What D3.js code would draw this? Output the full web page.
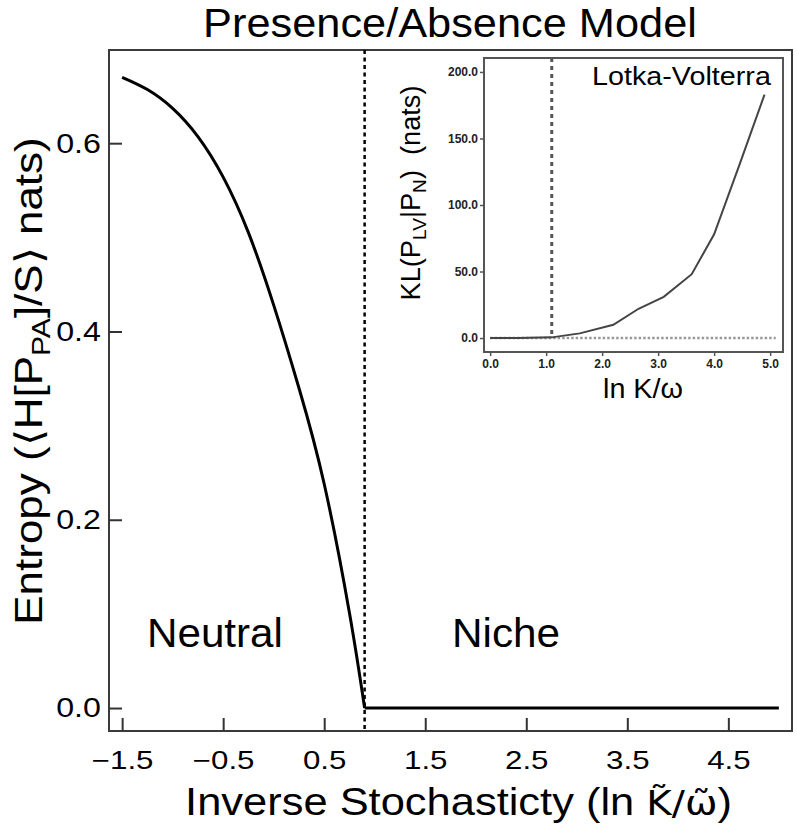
<!DOCTYPE html>
<html>
<head>
<meta charset="utf-8">
<script src="https://cdn.jsdelivr.net/npm/d3@7"></script>
<style>
  body { margin: 0; background: #fff; }
  svg { display: block; font-family: "Liberation Sans", Arial, sans-serif; }
</style>
</head>
<body>
<svg id="chart" width="797" height="832"></svg>
<script>
// main curve (neutral regime)
const neutralX = [-1.5, -1.25, -1.0, -0.75, -0.5, -0.25, 0.0, 0.25, 0.5, 0.75, 0.9];
const neutralY = [0.670, 0.657, 0.637, 0.607, 0.564, 0.505, 0.428, 0.340, 0.238, 0.101, 0.0];
// niche regime: flat at zero
const nicheX = [0.9, 5.0];
const nicheY = [0.0, 0.0];
const transitionX = 0.9;

const mainXTicks = [-1.5, -0.5, 0.5, 1.5, 2.5, 3.5, 4.5];
const mainYTicks = [0.0, 0.2, 0.4, 0.6];

// inset: Lotka-Volterra KL divergence
const lvX = [0.0, 0.5, 1.1, 1.6, 2.2, 2.65, 3.1, 3.6, 4.0, 4.45, 4.9];
const lvY = [0, 0, 0.5, 3.5, 10, 22, 31, 48, 78, 130, 183];
const insetTransitionX = 1.1;
const insetXTicks = [0, 1, 2, 3, 4, 5];
const insetYTicks = [0, 50, 100, 150, 200];

const svg = d3.select('#chart');

// stretch a text horizontally so it takes the given width
const fitWidth = (sel, w) => w / sel.node().getComputedTextLength();

// ---------- main plot ----------
const x = d3.scaleLinear().domain([-1.63, 5.13]).range([109, 792]);
const y = d3.scaleLinear().domain([-0.0244, 0.699]).range([731, 50]);

svg.append('rect')
  .attr('x', 109).attr('y', 50)
  .attr('width', 792 - 109).attr('height', 731 - 50)
  .attr('fill', 'none')
  .attr('stroke', '#3a3a3a')
  .attr('stroke-width', 2);

const xAxis = svg.append('g')
  .attr('transform', 'translate(0,731)')
  .call(d3.axisBottom(x).tickValues(mainXTicks).tickSize(-13).tickPadding(20).tickFormat(d3.format('.1f')));
xAxis.select('.domain').remove();
xAxis.selectAll('.tick line').attr('stroke', '#333').attr('stroke-width', 2);
xAxis.selectAll('.tick text')
  .attr('fill', '#000')
  .style('font-size', '25px')
  .attr('transform', 'scale(1.25,1)');

const yAxis = svg.append('g')
  .attr('transform', 'translate(109,0)')
  .call(d3.axisLeft(y).tickValues(mainYTicks).tickSize(-13).tickPadding(7).tickFormat(d3.format('.1f')));
yAxis.select('.domain').remove();
yAxis.selectAll('.tick line').attr('stroke', '#333').attr('stroke-width', 2);
yAxis.selectAll('.tick text')
  .attr('fill', '#000')
  .style('font-size', '28px')
  .attr('transform', 'scale(1.15,1)');

// transition line
svg.append('line')
  .attr('x1', x(transitionX)).attr('x2', x(transitionX))
  .attr('y1', y.range()[1]).attr('y2', y.range()[0])
  .attr('stroke', '#000')
  .attr('stroke-width', 2.5)
  .attr('stroke-dasharray', '4,3.5');

const neutralData = neutralX.map((d, i) => ({x: d, y: neutralY[i]}));
const nicheData = nicheX.map((d, i) => ({x: d, y: nicheY[i]}));

svg.append('path')
  .datum(neutralData)
  .attr('fill', 'none')
  .attr('stroke', '#000')
  .attr('stroke-width', 3)
  .attr('d', d3.line().x(d => x(d.x)).y(d => y(d.y)).curve(d3.curveNatural));

svg.append('path')
  .datum(nicheData)
  .attr('fill', 'none')
  .attr('stroke', '#000')
  .attr('stroke-width', 3)
  .attr('d', d3.line().x(d => x(d.x)).y(d => y(d.y)));

// regime labels
const neutral = svg.append('text').attr('font-size', 40).attr('fill', '#000').text('Neutral');
neutral.attr('transform', `translate(147,647) scale(${fitWidth(neutral, 136)},1)`);
const niche = svg.append('text').attr('font-size', 40).attr('fill', '#000').text('Niche');
niche.attr('transform', `translate(452,647) scale(${fitWidth(niche, 108)},1)`);

// title
const title = svg.append('text')
  .attr('font-size', 40).attr('text-anchor', 'middle').attr('fill', '#000')
  .text('Presence/Absence Model');
title.attr('transform', `translate(450,37) scale(${fitWidth(title, 494)},1)`);

// x axis title
const xTitle = svg.append('text')
  .attr('font-size', 38).attr('text-anchor', 'middle').attr('fill', '#000');
xTitle.append('tspan').text('Inverse Stochasticty (ln ');
xTitle.append('tspan').attr('font-family', '"DejaVu Sans"').attr('font-size', 34).text('K\u0303/\u03C9\u0303');
xTitle.append('tspan').text(')');
xTitle.attr('transform', `translate(${(185 + 732) / 2},815) scale(${fitWidth(xTitle, 547)},1)`);

// y axis title
const yTitle = svg.append('text')
  .attr('font-size', 38).attr('text-anchor', 'middle').attr('fill', '#000');
yTitle.append('tspan').text('Entropy (\u27E8H[P');
yTitle.append('tspan').attr('font-size', 26).attr('dy', 8).text('PA');
yTitle.append('tspan').attr('dy', -8).text(']/S\u27E9 nats)');
yTitle.attr('transform', `translate(42,381) rotate(-90) scale(${fitWidth(yTitle, 488)},1)`);

// ---------- inset ----------
const ix = d3.scaleLinear().domain([-0.11, 5.23]).range([484, 783]);
const iy = d3.scaleLinear().domain([-10.5, 210.5]).range([352, 58]);

svg.append('rect')
  .attr('x', 484).attr('y', 58)
  .attr('width', 783 - 484).attr('height', 352 - 58)
  .attr('fill', '#fff')
  .attr('stroke', '#555')
  .attr('stroke-width', 2);

const ixAxis = svg.append('g')
  .attr('transform', 'translate(0,352)')
  .call(d3.axisBottom(ix).tickValues(insetXTicks).tickSize(4).tickPadding(3).tickFormat(d3.format('.1f')));
ixAxis.select('.domain').remove();
ixAxis.selectAll('.tick line').attr('stroke', '#555').attr('stroke-width', 1.5);
ixAxis.selectAll('.tick text').attr('fill', '#222').style('font-size', '12px').style('font-weight', 'bold');

const iyAxis = svg.append('g')
  .attr('transform', 'translate(484,0)')
  .call(d3.axisLeft(iy).tickValues(insetYTicks).tickSize(4).tickPadding(2).tickFormat(d3.format('.1f')));
iyAxis.select('.domain').remove();
iyAxis.selectAll('.tick line').attr('stroke', '#555').attr('stroke-width', 1.5);
iyAxis.selectAll('.tick text').attr('fill', '#222').style('font-size', '12px').style('font-weight', 'bold');

// zero reference
svg.append('line')
  .attr('x1', ix(0)).attr('x2', ix(5.1))
  .attr('y1', iy(0)).attr('y2', iy(0))
  .attr('stroke', '#999')
  .attr('stroke-width', 2.5)
  .attr('stroke-dasharray', '2.5,2');

// transition line in inset
svg.append('line')
  .attr('x1', ix(insetTransitionX)).attr('x2', ix(insetTransitionX))
  .attr('y1', iy.range()[1]).attr('y2', iy(0))
  .attr('stroke', '#555')
  .attr('stroke-width', 3)
  .attr('stroke-dasharray', '4,4');

const lvData = lvX.map((d, i) => ({x: d, y: lvY[i]}));
svg.append('path')
  .datum(lvData)
  .attr('fill', 'none')
  .attr('stroke', '#444')
  .attr('stroke-width', 2)
  .attr('d', d3.line().x(d => ix(d.x)).y(d => iy(d.y)));

const lv = svg.append('text').attr('font-size', 26).attr('fill', '#000').text('Lotka-Volterra');
lv.attr('transform', `translate(592,85) scale(${fitWidth(lv, 179)},1)`);

const ixTitle = svg.append('text')
  .attr('font-size', 28).attr('text-anchor', 'middle').attr('fill', '#000')
  .text('ln K/\u03C9');
ixTitle.attr('transform', `translate(643,398) scale(${fitWidth(ixTitle, 80)},1)`);

const iyTitle = svg.append('text')
  .attr('font-size', 27).attr('text-anchor', 'middle').attr('fill', '#000');
iyTitle.append('tspan').text('KL(P');
iyTitle.append('tspan').attr('font-size', 19).attr('dy', 6).text('LV');
iyTitle.append('tspan').attr('dy', -6).text('|P');
iyTitle.append('tspan').attr('font-size', 19).attr('dy', 6).text('N');
iyTitle.append('tspan').attr('dy', -6).text(')\u00A0\u00A0(nats)');
iyTitle.attr('transform', `translate(420,193) rotate(-90) scale(${fitWidth(iyTitle, 215)},1)`);
</script>
</body>
</html>
